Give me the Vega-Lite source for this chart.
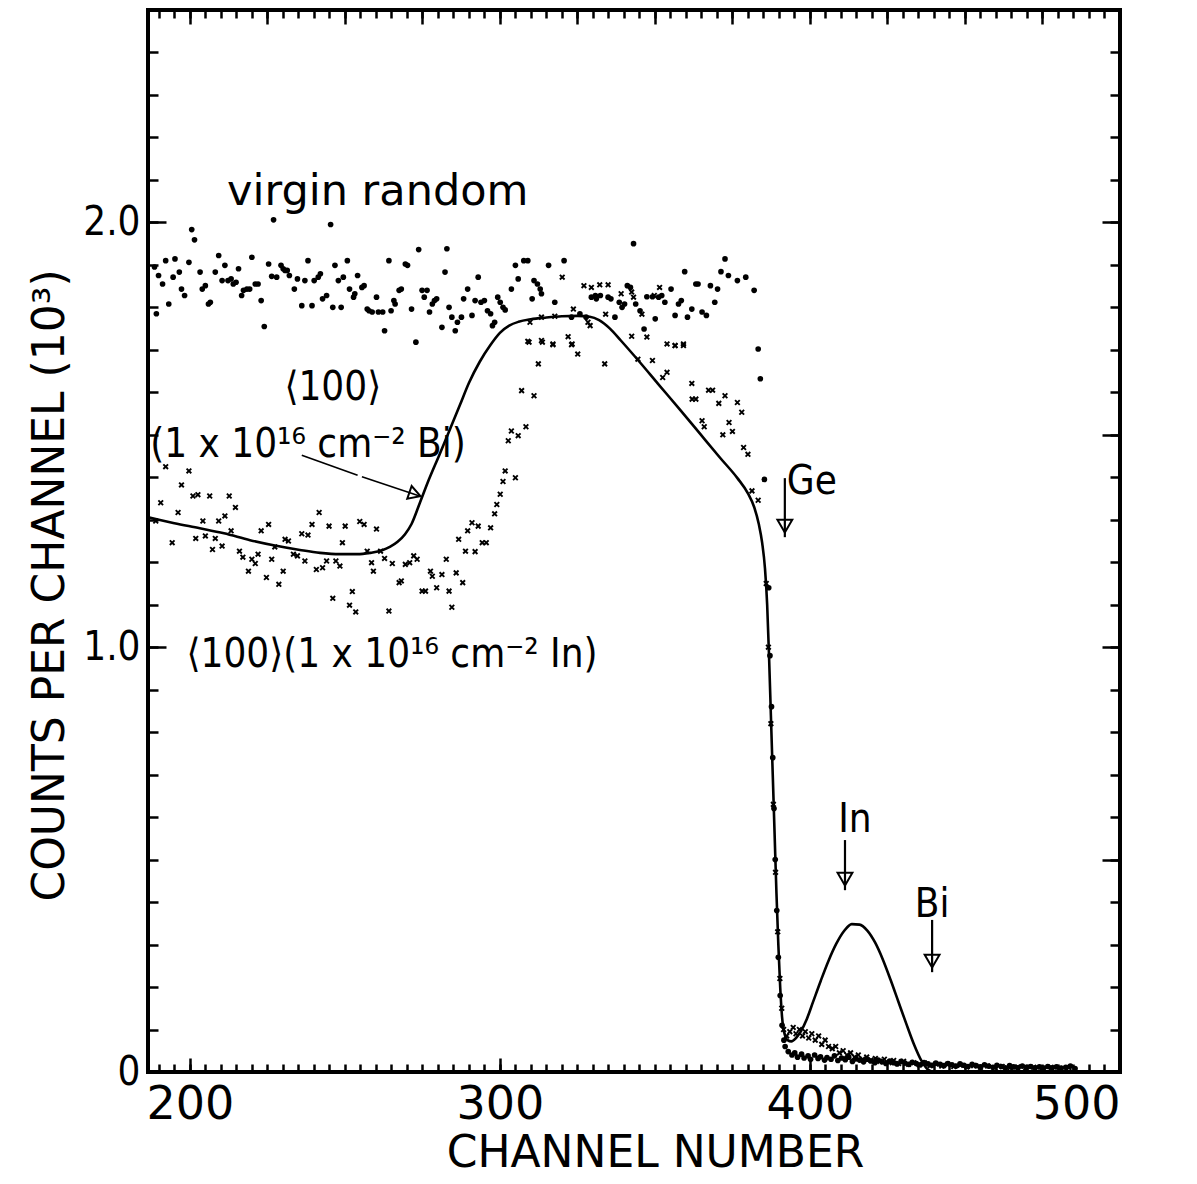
{
  "$schema": "https://vega.github.io/schema/vega-lite/v6.json",
  "width": 972,
  "height": 1062,
  "autosize": "none",
  "padding": {"left": 148, "top": 10, "right": 77, "bottom": 112},
  "background": "white",
  "config": {
    "view": {"stroke": "black", "strokeWidth": 4},
    "axis": {"domain": false, "grid": false, "tickColor": "black", "tickWidth": 2.5, "labelColor": "black", "titleColor": "black", "labelFont": "DejaVu Sans", "titleFont": "DejaVu Sans", "titleFontWeight": "normal", "labelFontWeight": "normal"}
  },
  "datasets": {
    "virgin": [
      {"ch":188.6,"c":1.895},{"ch":189.2,"c":1.785},{"ch":189.9,"c":1.875},{"ch":191.2,"c":1.855},{"ch":192.2,"c":1.910},{"ch":193.2,"c":1.808},{"ch":194.6,"c":1.871},{"ch":195.2,"c":1.914},{"ch":196.6,"c":1.883},{"ch":197.3,"c":1.843},{"ch":198.3,"c":1.828},{"ch":199.7,"c":1.906},{"ch":200.6,"c":1.983},{"ch":201.5,"c":1.959},{"ch":203.3,"c":1.883},{"ch":204.0,"c":1.843},{"ch":205.0,"c":1.851},{"ch":206.0,"c":1.808},{"ch":206.6,"c":1.812},{"ch":208.2,"c":1.883},{"ch":209.3,"c":1.922},{"ch":210.4,"c":1.863},{"ch":211.3,"c":1.899},{"ch":212.3,"c":1.863},{"ch":213.3,"c":1.867},{"ch":214.0,"c":1.855},{"ch":214.9,"c":1.859},{"ch":215.7,"c":1.891},{"ch":216.7,"c":1.828},{"ch":217.3,"c":1.840},{"ch":218.4,"c":1.843},{"ch":219.3,"c":1.843},{"ch":220.0,"c":1.918},{"ch":221.1,"c":1.855},{"ch":222.0,"c":1.855},{"ch":223.0,"c":1.816},{"ch":224.0,"c":1.755},{"ch":225.4,"c":1.902},{"ch":226.4,"c":1.873},{"ch":227.0,"c":2.006},{"ch":228.0,"c":1.871},{"ch":229.4,"c":1.899},{"ch":230.1,"c":1.891},{"ch":230.7,"c":1.887},{"ch":231.4,"c":1.887},{"ch":232.1,"c":1.875},{"ch":233.7,"c":1.843},{"ch":234.7,"c":1.867},{"ch":236.1,"c":1.804},{"ch":237.1,"c":1.863},{"ch":238.1,"c":1.910},{"ch":239.4,"c":1.804},{"ch":240.1,"c":1.863},{"ch":241.4,"c":1.871},{"ch":242.1,"c":1.879},{"ch":242.8,"c":1.820},{"ch":244.1,"c":1.828},{"ch":245.4,"c":1.995},{"ch":246.1,"c":1.800},{"ch":246.8,"c":1.899},{"ch":247.9,"c":1.863},{"ch":248.8,"c":1.800},{"ch":249.5,"c":1.871},{"ch":250.8,"c":1.910},{"ch":251.5,"c":1.843},{"ch":252.8,"c":1.824},{"ch":253.2,"c":1.832},{"ch":254.1,"c":1.875},{"ch":255.5,"c":1.847},{"ch":256.2,"c":1.851},{"ch":257.2,"c":1.796},{"ch":257.8,"c":1.792},{"ch":258.8,"c":1.789},{"ch":260.2,"c":1.824},{"ch":260.8,"c":1.789},{"ch":262.2,"c":1.789},{"ch":262.8,"c":1.745},{"ch":264.2,"c":1.910},{"ch":264.9,"c":1.792},{"ch":265.8,"c":1.816},{"ch":266.2,"c":1.808},{"ch":267.5,"c":1.840},{"ch":268.2,"c":1.843},{"ch":269.5,"c":1.902},{"ch":270.2,"c":1.899},{"ch":271.5,"c":1.796},{"ch":272.9,"c":1.718},{"ch":273.8,"c":1.936},{"ch":274.9,"c":1.840},{"ch":275.6,"c":1.824},{"ch":276.5,"c":1.840},{"ch":277.3,"c":1.789},{"ch":278.2,"c":1.808},{"ch":278.9,"c":1.816},{"ch":279.6,"c":1.820},{"ch":281.3,"c":1.753},{"ch":282.3,"c":1.883},{"ch":282.9,"c":1.938},{"ch":283.6,"c":1.800},{"ch":284.5,"c":1.777},{"ch":285.6,"c":1.745},{"ch":286.3,"c":1.765},{"ch":287.6,"c":1.777},{"ch":288.3,"c":1.820},{"ch":289.6,"c":1.843},{"ch":291.0,"c":1.781},{"ch":292.0,"c":1.816},{"ch":293.0,"c":1.871},{"ch":293.9,"c":1.812},{"ch":295.0,"c":1.816},{"ch":296.0,"c":1.792},{"ch":297.0,"c":1.785},{"ch":297.6,"c":1.757},{"ch":298.3,"c":1.765},{"ch":299.3,"c":1.824},{"ch":300.1,"c":1.812},{"ch":301.0,"c":1.800},{"ch":301.7,"c":1.794},{"ch":303.7,"c":1.843},{"ch":305.0,"c":1.899},{"ch":305.9,"c":1.867},{"ch":307.7,"c":1.910},{"ch":309.0,"c":1.910},{"ch":310.4,"c":1.820},{"ch":311.0,"c":1.863},{"ch":312.1,"c":1.855},{"ch":313.0,"c":1.843},{"ch":313.4,"c":1.832},{"ch":315.7,"c":1.899},{"ch":317.7,"c":1.812},{"ch":320.7,"c":1.910},{"ch":323.1,"c":1.777},{"ch":325.8,"c":1.785},{"ch":327.8,"c":1.777},{"ch":329.5,"c":1.824},{"ch":330.8,"c":1.828},{"ch":331.1,"c":1.820},{"ch":332.4,"c":1.828},{"ch":334.9,"c":1.824},{"ch":335.8,"c":1.820},{"ch":337.1,"c":1.777},{"ch":338.5,"c":1.812},{"ch":339.4,"c":1.800},{"ch":340.2,"c":1.808},{"ch":341.1,"c":1.851},{"ch":342.1,"c":1.847},{"ch":343.1,"c":1.950},{"ch":343.8,"c":1.808},{"ch":345.2,"c":1.792},{"ch":346.5,"c":1.749},{"ch":347.4,"c":1.825},{"ch":349.2,"c":1.825},{"ch":350.1,"c":1.773},{"ch":351.2,"c":1.824},{"ch":352.2,"c":1.828},{"ch":353.2,"c":1.812},{"ch":355.2,"c":1.843},{"ch":356.5,"c":1.781},{"ch":357.6,"c":1.808},{"ch":358.5,"c":1.816},{"ch":359.6,"c":1.884},{"ch":360.5,"c":1.777},{"ch":361.9,"c":1.796},{"ch":363.2,"c":1.855},{"ch":363.9,"c":1.855},{"ch":365.2,"c":1.789},{"ch":366.6,"c":1.781},{"ch":367.9,"c":1.851},{"ch":369.3,"c":1.812},{"ch":370.2,"c":1.843},{"ch":371.3,"c":1.884},{"ch":372.6,"c":1.914},{"ch":373.7,"c":1.875},{"ch":376.6,"c":1.863},{"ch":379.3,"c":1.871},{"ch":382.0,"c":1.840},{"ch":383.3,"c":1.702},{"ch":384.0,"c":1.632},{"ch":385.3,"c":1.395},{"ch":386.7,"c":1.14},{"ch":387.1,"c":0.98},{"ch":387.6,"c":0.86},{"ch":388.0,"c":0.74},{"ch":388.4,"c":0.62},{"ch":388.8,"c":0.50},{"ch":389.3,"c":0.38},{"ch":389.8,"c":0.27},{"ch":390.4,"c":0.18},{"ch":391.0,"c":0.11},{"ch":391.6,"c":0.075},
      {"ch":392.0,"c":0.060},{"ch":393.0,"c":0.048},{"ch":394.2,"c":0.040},{"ch":395.1,"c":0.045},{"ch":396.0,"c":0.035},{"ch":397.3,"c":0.042},{"ch":398.1,"c":0.033},{"ch":399.4,"c":0.038},{"ch":400.2,"c":0.030},{"ch":401.5,"c":0.040},{"ch":402.6,"c":0.032},{"ch":403.4,"c":0.036},{"ch":404.7,"c":0.028},{"ch":405.5,"c":0.034},{"ch":406.8,"c":0.030},{"ch":407.9,"c":0.038},{"ch":409.0,"c":0.027},{"ch":410.2,"c":0.033},{"ch":411.4,"c":0.029},{"ch":412.5,"c":0.035},{"ch":413.7,"c":0.025},{"ch":414.8,"c":0.031},{"ch":416.0,"c":0.028},{"ch":417.3,"c":0.024},{"ch":418.4,"c":0.030},{"ch":419.6,"c":0.026},{"ch":420.9,"c":0.022},{"ch":422.0,"c":0.028},{"ch":423.2,"c":0.024},{"ch":424.5,"c":0.020},{"ch":425.7,"c":0.026},{"ch":427.0,"c":0.022},{"ch":428.1,"c":0.019},{"ch":429.4,"c":0.025},{"ch":430.6,"c":0.021},{"ch":431.9,"c":0.018},{"ch":433.0,"c":0.023},{"ch":434.3,"c":0.020},{"ch":435.6,"c":0.017},{"ch":436.8,"c":0.022},{"ch":438.1,"c":0.019},{"ch":439.4,"c":0.016},{"ch":440.6,"c":0.021},{"ch":442.0,"c":0.018},{"ch":443.2,"c":0.015},{"ch":444.5,"c":0.020},{"ch":445.8,"c":0.017},{"ch":447.1,"c":0.014},{"ch":448.4,"c":0.019},{"ch":449.7,"c":0.016},{"ch":451.0,"c":0.013},{"ch":452.3,"c":0.018},{"ch":453.6,"c":0.015},{"ch":455.0,"c":0.012},{"ch":456.3,"c":0.017},{"ch":457.6,"c":0.014},{"ch":459.0,"c":0.011},{"ch":460.3,"c":0.016},{"ch":461.7,"c":0.013},{"ch":463.0,"c":0.010},{"ch":464.4,"c":0.015},{"ch":465.7,"c":0.012},{"ch":467.1,"c":0.010},{"ch":468.5,"c":0.014},{"ch":469.8,"c":0.011},{"ch":471.2,"c":0.013},{"ch":472.6,"c":0.010},{"ch":474.0,"c":0.012},{"ch":475.3,"c":0.009},{"ch":476.7,"c":0.013},{"ch":478.1,"c":0.010},{"ch":479.5,"c":0.012},{"ch":481.0,"c":0.009},{"ch":482.5,"c":0.011},{"ch":484.0,"c":0.014},{"ch":485.5,"c":0.008}
    ],
    "inimpl": [
      {"ch":189.0,"c":1.297},{"ch":190.6,"c":1.340},{"ch":192.2,"c":1.425},{"ch":194.3,"c":1.246},{"ch":196.2,"c":1.317},{"ch":197.3,"c":1.382},{"ch":199.7,"c":1.415},{"ch":201.0,"c":1.356},{"ch":202.6,"c":1.359},{"ch":201.9,"c":1.256},{"ch":204.2,"c":1.297},{"ch":205.0,"c":1.262},{"ch":206.4,"c":1.356},{"ch":207.3,"c":1.230},{"ch":208.2,"c":1.256},{"ch":209.3,"c":1.297},{"ch":210.4,"c":1.238},{"ch":211.3,"c":1.309},{"ch":212.7,"c":1.356},{"ch":213.3,"c":1.274},{"ch":214.7,"c":1.329},{"ch":216.0,"c":1.226},{"ch":217.1,"c":1.212},{"ch":218.9,"c":1.179},{"ch":220.0,"c":1.207},{"ch":221.1,"c":1.197},{"ch":222.0,"c":1.219},{"ch":223.0,"c":1.274},{"ch":224.7,"c":1.164},{"ch":225.4,"c":1.289},{"ch":226.4,"c":1.207},{"ch":227.4,"c":1.236},{"ch":228.7,"c":1.148},{"ch":230.1,"c":1.179},{"ch":230.7,"c":1.254},{"ch":231.8,"c":1.250},{"ch":233.4,"c":1.219},{"ch":234.7,"c":1.215},{"ch":236.1,"c":1.267},{"ch":237.1,"c":1.203},{"ch":238.1,"c":1.264},{"ch":239.4,"c":1.289},{"ch":240.8,"c":1.183},{"ch":241.7,"c":1.317},{"ch":242.8,"c":1.187},{"ch":244.1,"c":1.203},{"ch":244.9,"c":1.285},{"ch":246.1,"c":1.115},{"ch":247.1,"c":1.203},{"ch":248.4,"c":1.191},{"ch":249.2,"c":1.246},{"ch":250.1,"c":1.285},{"ch":251.5,"c":1.099},{"ch":252.4,"c":1.131},{"ch":253.5,"c":1.083},{"ch":254.8,"c":1.296},{"ch":256.2,"c":1.289},{"ch":257.2,"c":1.226},{"ch":258.6,"c":1.199},{"ch":259.2,"c":1.179},{"ch":260.2,"c":1.278},{"ch":261.5,"c":1.226},{"ch":262.8,"c":1.209},{"ch":264.2,"c":1.085},{"ch":265.3,"c":1.197},{"ch":267.5,"c":1.152},{"ch":268.2,"c":1.156},{"ch":269.5,"c":1.195},{"ch":270.9,"c":1.199},{"ch":272.2,"c":1.215},{"ch":273.3,"c":1.207},{"ch":274.9,"c":1.132},{"ch":276.0,"c":1.132},{"ch":277.6,"c":1.179},{"ch":278.2,"c":1.167},{"ch":279.6,"c":1.140},{"ch":281.3,"c":1.171},{"ch":282.7,"c":1.207},{"ch":283.6,"c":1.132},{"ch":284.5,"c":1.094},{"ch":285.9,"c":1.175},{"ch":286.7,"c":1.254},{"ch":288.0,"c":1.152},{"ch":288.9,"c":1.226},{"ch":289.6,"c":1.274},{"ch":291.0,"c":1.293},{"ch":292.0,"c":1.225},{"ch":293.0,"c":1.285},{"ch":294.3,"c":1.246},{"ch":295.6,"c":1.246},{"ch":297.0,"c":1.281},{"ch":298.3,"c":1.314},{"ch":299.0,"c":1.336},{"ch":300.1,"c":1.360},{"ch":301.0,"c":1.390},{"ch":301.7,"c":1.415},{"ch":302.7,"c":1.486},{"ch":303.7,"c":1.509},{"ch":305.0,"c":1.399},{"ch":305.9,"c":1.498},{"ch":307.0,"c":1.604},{"ch":308.4,"c":1.519},{"ch":311.0,"c":1.592},{"ch":312.4,"c":1.667},{"ch":309.4,"c":1.718},{"ch":313.7,"c":1.718},{"ch":317.1,"c":1.712},{"ch":323.1,"c":1.712},{"ch":325.1,"c":1.690},{"ch":333.8,"c":1.667},{"ch":344.5,"c":1.678},{"ch":349.2,"c":1.675},{"ch":352.5,"c":1.635},{"ch":353.9,"c":1.647},{"ch":356.5,"c":1.710},{"ch":359.2,"c":1.710},{"ch":361.9,"c":1.621},{"ch":362.0,"c":1.584},{"ch":363.2,"c":1.584},{"ch":367.3,"c":1.605},{"ch":368.6,"c":1.605},{"ch":370.6,"c":1.574},{"ch":372.6,"c":1.592},{"ch":373.9,"c":1.529},{"ch":376.6,"c":1.576},{"ch":378.0,"c":1.553},{"ch":365.2,"c":1.533},{"ch":365.9,"c":1.519},{"ch":371.9,"c":1.500},{"ch":375.0,"c":1.508},{"ch":378.6,"c":1.470},{"ch":380.0,"c":1.454},{"ch":381.3,"c":1.368},{"ch":383.3,"c":1.346},
      {"ch":309.7,"c":1.765},{"ch":313.4,"c":1.777},{"ch":317.7,"c":1.779},{"ch":320.1,"c":1.871},{"ch":323.7,"c":1.796},{"ch":309.0,"c":1.720},{"ch":313.4,"c":1.722},{"ch":317.1,"c":1.714},{"ch":322.0,"c":1.731},{"ch":323.3,"c":1.714},{"ch":327.1,"c":1.851},{"ch":329.5,"c":1.847},{"ch":332.2,"c":1.853},{"ch":334.9,"c":1.853},{"ch":328.4,"c":1.765},{"ch":329.1,"c":1.757},{"ch":334.1,"c":1.784},{"ch":339.1,"c":1.832},{"ch":342.5,"c":1.836},{"ch":343.1,"c":1.824},{"ch":342.5,"c":1.732},{"ch":347.4,"c":1.730},{"ch":349.8,"c":1.828},{"ch":351.5,"c":1.847},{"ch":353.9,"c":1.714},{"ch":356.5,"c":1.710},{"ch":359.2,"c":1.714},{"ch":345.8,"c":1.784},
      {"ch":385.9,"c":1.15},{"ch":386.6,"c":1.00},{"ch":387.4,"c":0.82},{"ch":388.2,"c":0.63},{"ch":388.9,"c":0.47},{"ch":389.6,"c":0.33},{"ch":390.3,"c":0.22},{"ch":390.9,"c":0.15},
      {"ch":391.5,"c":0.10},{"ch":392.5,"c":0.085},{"ch":393.5,"c":0.095},{"ch":394.6,"c":0.105},{"ch":395.5,"c":0.09},{"ch":396.6,"c":0.10},{"ch":397.6,"c":0.085},{"ch":398.5,"c":0.095},{"ch":399.6,"c":0.08},{"ch":400.6,"c":0.09},{"ch":401.7,"c":0.075},{"ch":402.8,"c":0.085},{"ch":403.8,"c":0.065},{"ch":404.9,"c":0.075},{"ch":406.0,"c":0.06},{"ch":407.2,"c":0.055},{"ch":408.3,"c":0.06},{"ch":409.5,"c":0.045},{"ch":410.7,"c":0.05},{"ch":411.9,"c":0.04},{"ch":413.1,"c":0.045},{"ch":414.4,"c":0.035},{"ch":415.6,"c":0.04},{"ch":417.0,"c":0.03},{"ch":418.3,"c":0.035},{"ch":419.7,"c":0.028},{"ch":421.1,"c":0.032},{"ch":422.5,"c":0.025},{"ch":424.0,"c":0.03},{"ch":425.5,"c":0.022},{"ch":427.0,"c":0.027},{"ch":428.6,"c":0.02},{"ch":430.2,"c":0.025},{"ch":431.8,"c":0.018},{"ch":433.5,"c":0.022},{"ch":435.2,"c":0.017},{"ch":437.0,"c":0.021},{"ch":438.8,"c":0.015},{"ch":440.6,"c":0.019},{"ch":442.5,"c":0.014},{"ch":444.4,"c":0.018},{"ch":446.4,"c":0.013},{"ch":448.5,"c":0.016},{"ch":450.6,"c":0.012},{"ch":452.8,"c":0.015},{"ch":455.0,"c":0.011},{"ch":457.3,"c":0.014},{"ch":459.6,"c":0.010},{"ch":462.0,"c":0.013},{"ch":464.5,"c":0.010},{"ch":467.0,"c":0.012},{"ch":469.6,"c":0.009},{"ch":472.2,"c":0.011},{"ch":475.0,"c":0.009},{"ch":477.8,"c":0.011},{"ch":480.6,"c":0.008},{"ch":483.5,"c":0.010}
    ],
    "bi": [
      {"ch":186.5,"c":1.306},{"ch":190,"c":1.300},{"ch":195,"c":1.292},{"ch":203.2,"c":1.280},{"ch":211,"c":1.268},{"ch":219.4,"c":1.252},{"ch":227,"c":1.240},{"ch":235.5,"c":1.229},{"ch":242,"c":1.222},{"ch":248.4,"c":1.219},{"ch":254,"c":1.219},{"ch":258.1,"c":1.222},{"ch":262,"c":1.228},{"ch":264.5,"c":1.236},{"ch":267,"c":1.248},{"ch":269.4,"c":1.266},{"ch":271.5,"c":1.290},{"ch":274.2,"c":1.340},{"ch":277,"c":1.393},{"ch":280.6,"c":1.455},{"ch":284,"c":1.515},{"ch":287.1,"c":1.570},{"ch":290,"c":1.622},{"ch":293.5,"c":1.672},{"ch":297,"c":1.712},{"ch":300,"c":1.740},{"ch":303,"c":1.757},{"ch":306,"c":1.766},{"ch":310,"c":1.772},{"ch":315,"c":1.776},{"ch":320,"c":1.779},{"ch":325,"c":1.780},{"ch":329,"c":1.778},{"ch":332,"c":1.770},{"ch":335.5,"c":1.750},{"ch":339,"c":1.722},{"ch":345,"c":1.672},{"ch":351,"c":1.620},{"ch":358,"c":1.560},{"ch":364.6,"c":1.502},{"ch":371,"c":1.446},{"ch":376.6,"c":1.398},{"ch":380,"c":1.362},{"ch":382,"c":1.330},{"ch":383.5,"c":1.290},{"ch":384.6,"c":1.245},{"ch":385.5,"c":1.185},{"ch":386.2,"c":1.10},{"ch":386.8,"c":0.98},{"ch":387.4,"c":0.84},{"ch":388.0,"c":0.70},{"ch":388.6,"c":0.56},{"ch":389.2,"c":0.42},{"ch":389.8,"c":0.30},{"ch":390.4,"c":0.20},{"ch":391.0,"c":0.13},{"ch":391.8,"c":0.09},{"ch":392.8,"c":0.075},{"ch":394.0,"c":0.072},{"ch":395.5,"c":0.080},{"ch":397,"c":0.095},{"ch":399,"c":0.125},{"ch":401,"c":0.165},{"ch":403.5,"c":0.215},{"ch":406,"c":0.262},{"ch":408.5,"c":0.302},{"ch":411,"c":0.332},{"ch":413.5,"c":0.348},{"ch":416,"c":0.347},{"ch":418.5,"c":0.333},{"ch":421,"c":0.305},{"ch":423.5,"c":0.265},{"ch":426,"c":0.217},{"ch":428.5,"c":0.166},{"ch":431,"c":0.115},{"ch":433.5,"c":0.066},{"ch":436,"c":0.026},{"ch":438,"c":0.006},{"ch":440,"c":0.0}
    ],
    "labels": [
      {"ch":246.1,"c":1.610,"t":"⟨100⟩"},
      {"ch":238.1,"c":1.476,"t":"(1 x 10¹⁶ cm⁻² Bi)"},
      {"ch":265.2,"c":0.982,"t":"⟨100⟩(1 x 10¹⁶ cm⁻² In)"},
      {"ch":400.6,"c":1.389,"t":"Ge"},
      {"ch":414.5,"c":0.593,"t":"In"},
      {"ch":439.4,"c":0.393,"t":"Bi"}
    ],
    "virginlabel": [
      {"ch":260.6,"c":2.072,"t":"virgin random"}
    ],
    "arrows": [
      {"ch":391.9,"c":1.398,"c2":1.259,"h":1.285},
      {"ch":411.3,"c":0.546,"c2":0.428,"h":0.454},
      {"ch":439.4,"c":0.358,"c2":0.235,"h":0.261}
    ],
    "slant": [
      {"ch":236.1,"c":1.452,"ch2":254.1,"c2":1.405},
      {"ch":255.5,"c":1.401,"ch2":274.8,"c2":1.354}
    ],
    "slanthead": [{"ch":272.6,"c":1.360}]
  },
  "resolve": {"axis": {"x": "independent", "y": "independent"}},
  "layer": [
    {
      "data": {"name": "virgin"},
      "mark": {"type": "circle", "size": 32, "color": "black", "opacity": 1},
      "encoding": {
        "x": {"field": "ch", "type": "quantitative", "scale": {"domain": [186.5, 500], "nice": false, "zero": false},
          "axis": {"orient": "bottom", "values": [200, 300, 400, 500], "tickSize": -14, "labelPadding": 24, "labelFontSize": 46, "title": "CHANNEL NUMBER", "titleFontSize": 44, "titlePadding": 4, "titleX": 507}},
        "y": {"field": "c", "type": "quantitative", "scale": {"domain": [0, 2.5], "nice": false, "zero": false},
          "axis": {"orient": "left", "values": [0, 1, 2], "labelExpr": "datum.value == 0 ? '0' : format(datum.value, '.1f')", "tickSize": -18, "labelPadding": 26, "labelFontSize": 40, "labelFont": "DejaVu Sans Condensed, DejaVu Sans", "labelBaseline": "middle", "title": "COUNTS PER CHANNEL (10³)", "titleFontSize": 44, "titlePadding": 10, "titleY": 575}}
      }
    },
    {
      "data": {"name": "inimpl"},
      "mark": {"type": "point", "shape": "M-1,-1L1,1M-1,1L1,-1", "filled": false, "stroke": "black", "strokeWidth": 1.9, "size": 22, "opacity": 1},
      "encoding": {
        "x": {"field": "ch", "type": "quantitative", "scale": {"domain": [186.5, 500], "nice": false, "zero": false},
          "axis": {"orient": "bottom", "values": [190,195,200,205,210,215,220,225,230,235,240,245,250,255,260,265,270,275,280,285,290,295,300,305,310,315,320,325,330,335,340,345,350,355,360,365,370,375,380,385,390,395,400,405,410,415,420,425,430,435,440,445,450,455,460,465,470,475,480,485,490,495,500], "tickSize": -8, "labels": false, "title": null}},
        "y": {"field": "c", "type": "quantitative", "scale": {"domain": [0, 2.5], "nice": false, "zero": false},
          "axis": {"orient": "left", "values": [0,0.1,0.2,0.3,0.4,0.5,0.6,0.7,0.8,0.9,1,1.1,1.2,1.3,1.4,1.5,1.6,1.7,1.8,1.9,2,2.1,2.2,2.3,2.4], "tickSize": -10, "labels": false, "title": null}}
      }
    },
    {
      "data": {"name": "bi"},
      "mark": {"type": "line", "color": "black", "strokeWidth": 2.6, "interpolate": "monotone"},
      "encoding": {
        "x": {"field": "ch", "type": "quantitative", "scale": {"domain": [186.5, 500], "nice": false, "zero": false},
          "axis": {"orient": "top", "values": [190,195,200,205,210,215,220,225,230,235,240,245,250,255,260,265,270,275,280,285,290,295,300,305,310,315,320,325,330,335,340,345,350,355,360,365,370,375,380,385,390,395,400,405,410,415,420,425,430,435,440,445,450,455,460,465,470,475,480,485,490,495,500], "tickSize": -8, "labels": false, "title": null}},
        "y": {"field": "c", "type": "quantitative", "scale": {"domain": [0, 2.5], "nice": false, "zero": false},
          "axis": {"orient": "right", "values": [0,0.1,0.2,0.3,0.4,0.5,0.6,0.7,0.8,0.9,1,1.1,1.2,1.3,1.4,1.5,1.6,1.7,1.8,1.9,2,2.1,2.2,2.3,2.4], "tickSize": -10, "labels": false, "title": null}}
      }
    },
    {
      "data": {"name": "labels"},
      "mark": {"type": "text", "font": "DejaVu Sans Condensed, DejaVu Sans", "fontSize": 40, "color": "black", "align": "center", "baseline": "middle"},
      "encoding": {
        "x": {"field": "ch", "type": "quantitative", "scale": {"domain": [186.5, 500], "nice": false, "zero": false},
          "axis": {"orient": "top", "values": [200,225,250,275,300,325,350,375,400,425,450,475,500], "tickSize": -14, "labels": false, "title": null}},
        "y": {"field": "c", "type": "quantitative", "scale": {"domain": [0, 2.5], "nice": false, "zero": false},
          "axis": {"orient": "right", "values": [0,0.5,1,1.5,2], "tickSize": -18, "labels": false, "title": null}},
        "text": {"field": "t"}
      }
    },
    {
      "data": {"name": "virginlabel"},
      "mark": {"type": "text", "font": "DejaVu Sans", "fontSize": 43, "color": "black", "align": "center", "baseline": "middle"},
      "encoding": {
        "x": {"field": "ch", "type": "quantitative", "axis": null},
        "y": {"field": "c", "type": "quantitative", "axis": null},
        "text": {"field": "t"}
      }
    },
    {
      "data": {"name": "arrows"},
      "mark": {"type": "rule", "color": "black", "strokeWidth": 2.2},
      "encoding": {
        "x": {"field": "ch", "type": "quantitative", "axis": null},
        "y": {"field": "c", "type": "quantitative", "axis": null},
        "y2": {"field": "c2"}
      }
    },
    {
      "data": {"name": "arrows"},
      "mark": {"type": "point", "shape": "triangle-down", "filled": false, "stroke": "black", "strokeWidth": 2, "size": 220, "opacity": 1},
      "encoding": {
        "x": {"field": "ch", "type": "quantitative", "axis": null},
        "y": {"field": "h", "type": "quantitative", "axis": null}
      }
    },
    {
      "data": {"name": "slant"},
      "mark": {"type": "rule", "color": "black", "strokeWidth": 1.6},
      "encoding": {
        "x": {"field": "ch", "type": "quantitative", "axis": null},
        "y": {"field": "c", "type": "quantitative", "axis": null},
        "x2": {"field": "ch2"},
        "y2": {"field": "c2"}
      }
    },
    {
      "data": {"name": "slanthead"},
      "mark": {"type": "point", "shape": "triangle-right", "angle": 19, "filled": false, "stroke": "black", "strokeWidth": 2, "size": 180, "opacity": 1},
      "encoding": {
        "x": {"field": "ch", "type": "quantitative", "axis": null},
        "y": {"field": "c", "type": "quantitative", "axis": null}
      }
    }
  ]
}
